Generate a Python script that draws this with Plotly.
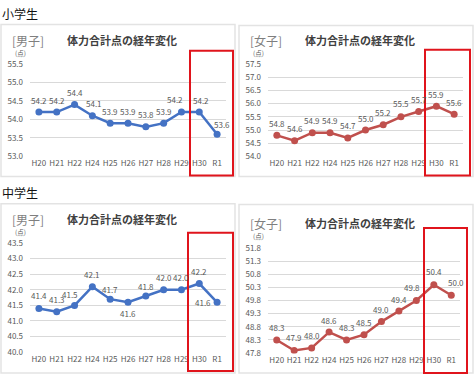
import plotly.graph_objects as go

W, H = 474, 379

categories = ["H20", "H21", "H22", "H24", "H25", "H26", "H27", "H28", "H29", "H30", "R1"]

elem_boys = [54.2, 54.2, 54.4, 54.1, 53.9, 53.9, 53.8, 53.9, 54.2, 54.2, 53.6]
elem_girls = [54.8, 54.6, 54.9, 54.9, 54.7, 55.0, 55.2, 55.5, 55.7, 55.9, 55.6]
jr_boys = [41.4, 41.3, 41.5, 42.1, 41.7, 41.6, 41.8, 42.0, 42.0, 42.2, 41.6]
jr_girls = [48.3, 47.9, 48.0, 48.6, 48.3, 48.5, 49.0, 49.4, 49.8, 50.4, 50.0]

ticks_eb = [53.0, 53.5, 54.0, 54.5, 55.0, 55.5]
ticks_eg = [54.0, 54.5, 55.0, 55.5, 56.0, 56.5, 57.0, 57.5]
ticks_jb = [40.0, 40.5, 41.0, 41.5, 42.0, 42.5, 43.0, 43.5]
ticks_jg = [47.8, 48.3, 48.8, 49.3, 49.8, 50.3, 50.8, 51.3, 51.8]

section_titles = ["小学生", "中学生"]
chart_title = "体力合計点の経年変化"
gender_tags = ["[男子]", "[女子]", "[男子]", "[女子]"]
unit_label = "(点)"

BLUE = "#4472C4"
RED = "#C0504D"
GRID = "#d9d9d9"
TXT = "#595959"
FONT = "Noto Sans CJK JP"

# panel geometry in pixels: plot x0,x1, y_top,y_bottom, card box, red box
panels = [
    dict(data=elem_boys, ticks=ticks_eb, color=BLUE, px=(30, 226), py=(59, 155),
         card=(1, 19, 235, 175), red=(190, 46, 233, 174), title_y=35, unit_y=48, tag=gender_tags[0],
         offs=[(0, 12), (0, 12), (0, 12), (2, 12), (0, 12), (0, 12), (0, 12), (0, 12), (-6, 13), (2, 12), (5, 10)]),
    dict(data=elem_girls, ticks=ticks_eg, color=RED, px=(268, 463), py=(59, 155),
         card=(239, 20, 473, 175), red=(425, 45, 470, 174), title_y=35, unit_y=48, tag=gender_tags[1],
         offs=[(0, 12), (0, 12), (0, 12), (0, 12), (0, 12), (0, 12), (0, 12), (0, 13), (0, 12), (0, 12), (0, 12)]),
    dict(data=jr_boys, ticks=ticks_jb, color=BLUE, px=(30, 226), py=(243, 356),
         card=(1, 203, 235, 377), red=(188, 233, 233, 375), title_y=219, unit_y=232, tag=gender_tags[2],
         offs=[(0, 13), (0, 12), (-5, 11), (0, 12), (0, 10), (0, -11), (0, 10), (0, 12), (0, 12), (0, 12), (-14, 0)]),
    dict(data=jr_girls, ticks=ticks_jg, color=RED, px=(268, 460), py=(248, 357),
         card=(239, 204, 473, 377), red=(424, 228, 467, 377), title_y=223, unit_y=236, tag=gender_tags[3],
         offs=[(0, 12), (0, 13), (0, 12), (0, 12), (0, 12), (0, 12), (0, 12), (0, 12), (-4, 13), (0, 13), (5, 13)]),
]

fig = go.Figure()
shapes = []
annotations = []

for s_text, y in zip(section_titles, [8, 192]):
    annotations.append(dict(text=s_text, x=0, y=1 - y / H, xref="paper", yref="paper",
                            xanchor="left", yanchor="middle", showarrow=False,
                            font=dict(family=FONT, size=12, color="#111111")))

for i, p in enumerate(panels):
    n = "" if i == 0 else str(i + 1)
    x0, x1 = p["px"]
    yt, yb = p["py"]
    t = p["ticks"]
    pad = (t[-1] - t[0]) * 0.004
    fig.add_trace(go.Scatter(
        x=categories, y=p["data"], mode="lines+markers",
        line=dict(color=p["color"], width=2.5),
        marker=dict(color=p["color"], size=7),
        xaxis="x" + n, yaxis="y" + n, showlegend=False, hoverinfo="skip"))
    fig.layout["xaxis" + n] = dict(
        domain=[x0 / W, x1 / W], anchor="y" + n, type="category",
        range=[-0.5, len(categories) - 0.5], showgrid=False, zeroline=False,
        showline=False, ticks="", tickfont=dict(family=FONT, size=8, color=TXT))
    fig.layout["yaxis" + n] = dict(
        domain=[1 - yb / H, 1 - yt / H], anchor="x" + n,
        range=[t[0] - pad, t[-1] + pad], tickvals=t, tickformat=".1f",
        showgrid=True, gridcolor=GRID, gridwidth=1, zeroline=False, showline=False,
        ticks="", ticklabelstandoff=6, tickfont=dict(family=FONT, size=8, color=TXT))
    xr = "x" + n
    yr = "y" + n
    for c, v, (dx, dy) in zip(categories, p["data"], p["offs"]):
        annotations.append(dict(text=f"{v:.1f}", x=c, y=v, xref=xr, yref=yr,
                                showarrow=False, xshift=dx, yshift=dy,
                                font=dict(family=FONT, size=8, color=TXT)))
    cx0, cy0, cx1, cy1 = p["card"]
    shapes.append(dict(type="rect", xref="paper", yref="paper", layer="below",
                       x0=cx0 / W, x1=cx1 / W, y0=1 - cy1 / H, y1=1 - cy0 / H,
                       line=dict(color="#e3e3e3", width=1.5), fillcolor="white"))
    rx0, ry0, rx1, ry1 = p["red"]
    shapes.append(dict(type="rect", xref="paper", yref="paper", layer="above",
                       x0=rx0 / W, x1=rx1 / W, y0=1 - ry1 / H, y1=1 - ry0 / H,
                       line=dict(color="#e0141c", width=2)))
    lx = cx0
    annotations.append(dict(text=p["tag"], x=(lx + 9) / W, y=1 - p["title_y"] / H,
                            xref="paper", yref="paper", xanchor="left", yanchor="middle",
                            showarrow=False, font=dict(family=FONT, size=12, color="#7f7f7f")))
    annotations.append(dict(text="<b>" + chart_title + "</b>", x=(lx + 64) / W, y=1 - p["title_y"] / H,
                            xref="paper", yref="paper", xanchor="left", yanchor="middle",
                            showarrow=False, font=dict(family=FONT, size=11, color="#404040")))
    annotations.append(dict(text=unit_label, x=(lx + 12) / W, y=1 - p["unit_y"] / H,
                            xref="paper", yref="paper", xanchor="left", yanchor="middle",
                            showarrow=False, font=dict(family=FONT, size=6.5, color=TXT)))

fig.update_layout(width=W, height=H, margin=dict(l=0, r=0, t=0, b=0),
                  paper_bgcolor="white", plot_bgcolor="rgba(0,0,0,0)",
                  shapes=shapes, annotations=annotations)

fig.write_html("out.html", config={"displayModeBar": False},
               post_script="document.body.style.margin='0';document.body.style.overflow='hidden';")
